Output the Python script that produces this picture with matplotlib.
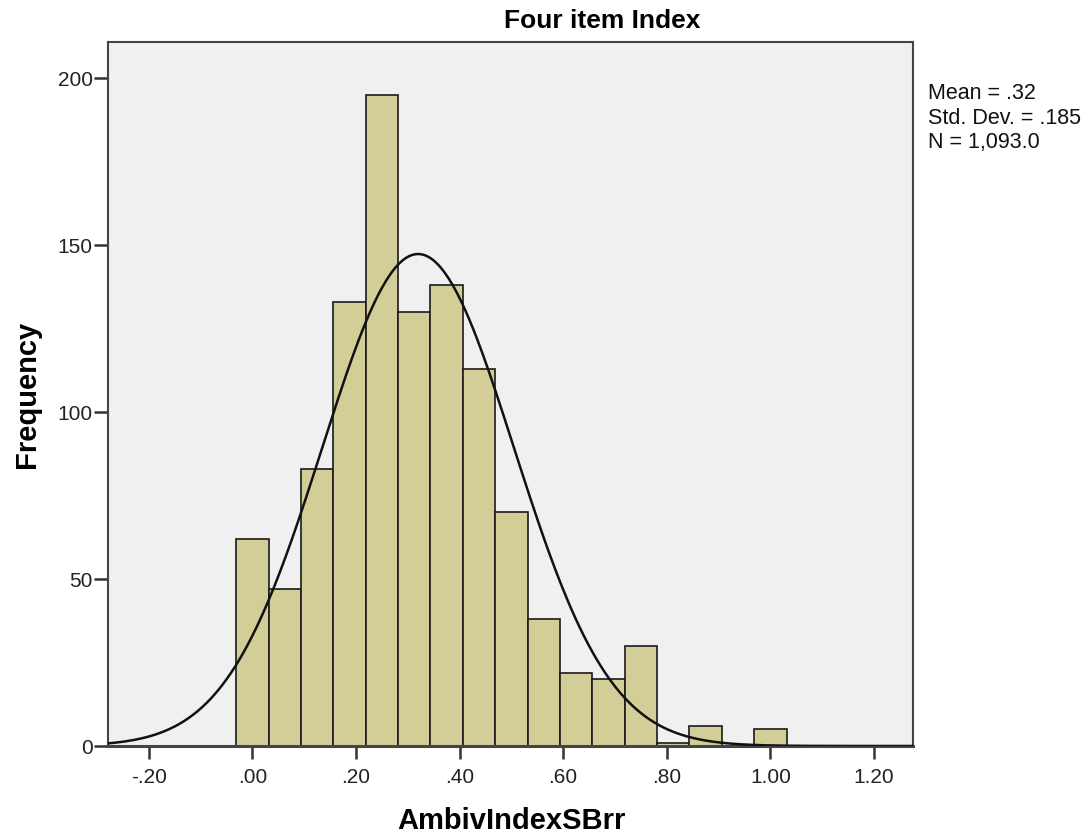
import numpy as np
import matplotlib
matplotlib.use("Agg")
import matplotlib.pyplot as plt

# histogram of AmbivIndexSBrr, bins of width 1/16 centred on k/16
bin_width = 0.0625
bin_centers = [0.0, 0.0625, 0.125, 0.1875, 0.25, 0.3125, 0.375, 0.4375,
               0.5, 0.5625, 0.625, 0.6875, 0.75, 0.8125, 0.875, 0.9375, 1.0]
counts = [62, 47, 83, 133, 195, 130, 138, 113, 70, 38, 22, 20, 30, 1, 6, 0, 5]

mean = 0.32
std_dev = 0.185
n_obs = 1093

xticks = [-0.2, 0.0, 0.2, 0.4, 0.6, 0.8, 1.0, 1.2]
xtick_labels = ["-.20", ".00", ".20", ".40", ".60", ".80", "1.00", "1.20"]
yticks = [0, 50, 100, 150, 200]

plt.rcParams['font.family'] = ['Liberation Sans', 'DejaVu Sans']

fig = plt.figure(figsize=(10.89, 8.4), dpi=100)
ax = fig.add_axes([0.0992, 0.1119, 0.7392, 0.8381])
ax.set_facecolor("#f0f0f0")

ax.bar(bin_centers, counts, width=bin_width, color="#d3ce97",
       edgecolor="#1a1a1a", linewidth=1.2, zorder=2)

# normal curve from the reported mean / sd / N
xlim = (-0.2786, 1.2755)
xx = np.linspace(xlim[0], xlim[1], 400)
yy = n_obs * bin_width / (std_dev * np.sqrt(2 * np.pi)) * np.exp(-0.5 * ((xx - mean) / std_dev) ** 2)
ax.plot(xx, yy, color="#111111", linewidth=1.8, zorder=3)

ax.set_xlim(*xlim)
ax.set_ylim(0, 210.8)
ax.set_xticks(xticks)
ax.set_xticklabels(xtick_labels)
ax.set_yticks(yticks)
ax.tick_params(axis="both", direction="out", width=1.8, color="#333333",
               labelsize=15, labelcolor="#222222")
ax.tick_params(axis="x", length=9.5, pad=6)
ax.tick_params(axis="y", length=10, pad=1)

for sp in ax.spines.values():
    sp.set_color("#444444")
    sp.set_linewidth(1.5)
ax.spines["bottom"].set_linewidth(2.2)

fig.text(0.5533, 0.9663, "Four item Index", fontsize=19, fontweight="bold",
         ha="center", va="baseline")
fig.text(0.4697, 0.0135, "AmbivIndexSBrr", fontsize=21, fontweight="bold",
         ha="center", va="baseline")
fig.text(0.0248, 0.531, "Frequency", fontsize=21, fontweight="bold",
         rotation=90, ha="center", va="center")

fig.text(0.852, 0.901, "Mean = .32\nStd. Dev. = .185\nN = 1,093.0",
         fontsize=15.5, va="top", ha="left", linespacing=1.22, color="#111111")

fig.savefig("out.png", dpi=100)
